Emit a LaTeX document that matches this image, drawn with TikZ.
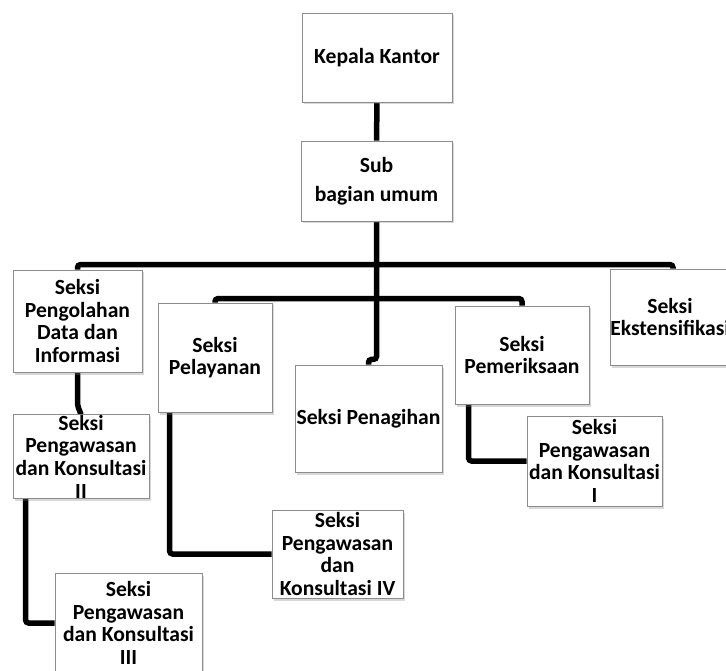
\documentclass[tikz,border=0pt]{standalone}
\usepackage{fontspec}
\setmainfont{Carlito}
\usetikzlibrary{calc,shadows}
\pgfdeclarelayer{bg}
\pgfdeclarelayer{paper}
\pgfsetlayers{paper,bg,main}
\begin{document}
\begin{tikzpicture}[x=1pt,y=-1pt,
  box/.style={draw=black!45, line width=0.8pt, fill=white, inner sep=0pt, align=center,
    font=\bfseries\fontsize{21.6}{22.7}\selectfont,
    drop shadow={shadow xshift=2pt, shadow yshift=-2.5pt, opacity=0.3}},
  conn/.style={line width=5.5pt, rounded corners=3pt}]
\useasboundingbox (0,0) rectangle (726,671);
\clip (0,0) rectangle (726,671);
\begin{pgfonlayer}{paper}
\fill[white] (0,0) rectangle (726,671);
\end{pgfonlayer}

\node[box, minimum width=150pt, minimum height=89pt] (kk) at (377,57.5) {Kepala Kantor};
\node[box, minimum width=151pt, minimum height=80pt] (sub) at (376.5,181) {Sub\\[6pt]bagian umum};
\node[box, minimum width=129pt, minimum height=102pt] (peng) at (77.5,321) {Seksi\\Pengolahan\\Data dan\\Informasi};
\node[box, minimum width=114pt, minimum height=109pt] (pel) at (215,357.5) {Seksi\\Pelayanan};
\node[box, minimum width=147pt, minimum height=107pt] (pen) at (368.5,418.5) {Seksi Penagihan};
\node[box, minimum width=134pt, minimum height=98pt] (pem) at (522,355) {Seksi\\Pemeriksaan};
\node[box, minimum width=116pt, minimum height=96pt] (eks) at (670,317) {Seksi\\Ekstensifikasi};
\node[box, minimum width=136pt, minimum height=77pt] (pII) at (81,456.5) {Seksi\\Pengawasan\\dan Konsultasi\\II};
\node[box, minimum width=147pt, minimum height=100pt] (pIII) at (128.5,623) {Seksi\\Pengawasan\\dan Konsultasi\\III};
\node[box, minimum width=131pt, minimum height=88pt] (pIV) at (337.5,554) {Seksi\\Pengawasan\\dan\\Konsultasi IV};
\node[box, minimum width=135pt, minimum height=90pt] (pI) at (594.5,461) {Seksi\\Pengawasan\\dan Konsultasi\\I};

\begin{pgfonlayer}{bg}
\draw[conn] (kk.south) -- (sub.north);
\draw[conn] (sub.south) -- ($(sub.south)+(0,138)$) -| (pen.north);
\draw[conn] (peng.north) |- ($(eks.north)+(3,-4)$) -- ($(eks.north)+(3,0)$);
\draw[conn] (pel.north) -- ++(0,-4) -| (pem.north);
\draw[conn] (peng.south) -- ++(0,33) -- (pII.north);
\draw[conn] ($(pII.south west)+(13,0)$) |- (pIII.west);
\draw[conn] ($(pel.south west)+(12,0)$) |- (pIV.west);
\draw[conn] ($(pem.south west)+(14,0)$) |- (pI.west);
\end{pgfonlayer}
\end{tikzpicture}
\end{document}
